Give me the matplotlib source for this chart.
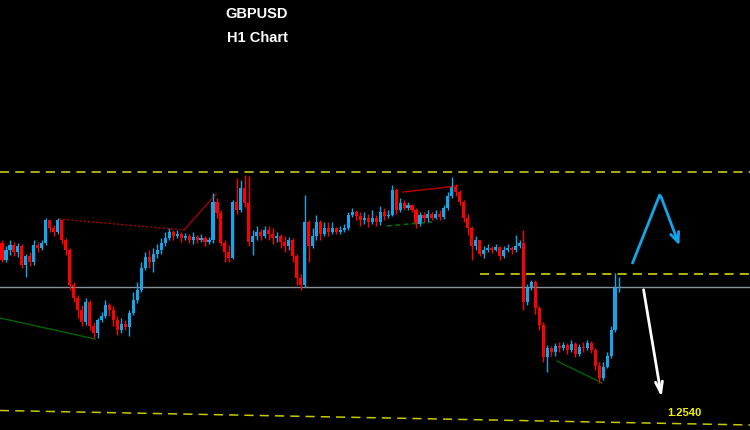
import numpy as np
import matplotlib
matplotlib.use("Agg")
import matplotlib.pyplot as plt

# GBPUSD H1 candles (open of each bar = previous close)
first_open = 1.2707
closes = [1.2690, 1.2700, 1.2705, 1.2698, 1.2704, 1.2685, 1.2694, 1.2688, 1.2705, 1.2702,
          1.2707, 1.2730, 1.2722, 1.2718, 1.2730, 1.2710, 1.2700, 1.2665, 1.2652, 1.2640,
          1.2628, 1.2648, 1.2624, 1.2617, 1.2630, 1.2634, 1.2645, 1.2640, 1.2630, 1.2620,
          1.2626, 1.2623, 1.2637, 1.2650, 1.2660, 1.2682, 1.2693, 1.2688, 1.2696, 1.2700,
          1.2707, 1.2712, 1.2718, 1.2714, 1.2716, 1.2712, 1.2714, 1.2710, 1.2713, 1.2710,
          1.2712, 1.2708, 1.2710, 1.2748, 1.2737, 1.2707, 1.2698, 1.2692, 1.2748, 1.2740,
          1.2762, 1.2747, 1.2708, 1.2714, 1.2718, 1.2714, 1.2720, 1.2716, 1.2712, 1.2714,
          1.2708, 1.2704, 1.2710, 1.2694, 1.2672, 1.2665, 1.2728, 1.2704, 1.2714, 1.2728,
          1.2716, 1.2722, 1.2718, 1.2722, 1.2718, 1.2720, 1.2722, 1.2735, 1.2738, 1.2734,
          1.2730, 1.2732, 1.2728, 1.2732, 1.2728, 1.2738, 1.2734, 1.2735, 1.2760, 1.2740,
          1.2747, 1.2742, 1.2745, 1.2740, 1.2726, 1.2735, 1.2732, 1.2736, 1.2732, 1.2736,
          1.2733, 1.2742, 1.2754, 1.2764, 1.2758, 1.2748, 1.2732, 1.2722, 1.2704, 1.2710,
          1.2696, 1.2700, 1.2702, 1.2700, 1.2703, 1.2694, 1.2700, 1.2702, 1.2700, 1.2704,
          1.2707, 1.2648, 1.2662, 1.2668, 1.2642, 1.2625, 1.2593, 1.2602, 1.2598, 1.2604,
          1.2602, 1.2605, 1.2600, 1.2606, 1.2596, 1.2603, 1.2602, 1.2607, 1.2600, 1.2584,
          1.2572, 1.2583, 1.2594, 1.2620, 1.2662, 1.2663]
highs = [1.2710, 1.2704, 1.2710, 1.2708, 1.2707, 1.2706, 1.2696, 1.2698, 1.2710, 1.2708,
         1.2710, 1.2732, 1.2728, 1.2725, 1.2732, 1.2730, 1.2712, 1.2702, 1.2668, 1.2655,
         1.2645, 1.2652, 1.2650, 1.2628, 1.2632, 1.2638, 1.2650, 1.2647, 1.2644, 1.2634,
         1.2632, 1.2630, 1.2640, 1.2658, 1.2668, 1.2688, 1.2698, 1.2700, 1.2702, 1.2706,
         1.2712, 1.2718, 1.2722, 1.2720, 1.2720, 1.2718, 1.2717, 1.2716, 1.2718, 1.2715,
         1.2716, 1.2714, 1.2713, 1.2757, 1.2752, 1.2740, 1.2710, 1.2705, 1.2750, 1.2772,
         1.2770, 1.2775, 1.2774, 1.2720, 1.2724, 1.2721, 1.2724, 1.2724, 1.2722, 1.2718,
         1.2716, 1.2714, 1.2713, 1.2712, 1.2696, 1.2676, 1.2755, 1.2730, 1.2722, 1.2735,
         1.2730, 1.2728, 1.2728, 1.2728, 1.2723, 1.2724, 1.2726, 1.2738, 1.2742, 1.2740,
         1.2738, 1.2738, 1.2736, 1.2740, 1.2735, 1.2744, 1.2742, 1.2740, 1.2765, 1.2762,
         1.2752, 1.2750, 1.2748, 1.2746, 1.2742, 1.2738, 1.2738, 1.2740, 1.2738, 1.2740,
         1.2740, 1.2745, 1.2758, 1.2773, 1.2766, 1.2760, 1.2750, 1.2736, 1.2724, 1.2714,
         1.2710, 1.2704, 1.2706, 1.2704, 1.2706, 1.2704, 1.2704, 1.2706, 1.2704, 1.2715,
         1.2710, 1.2720, 1.2666, 1.2670, 1.2670, 1.2644, 1.2628, 1.2605, 1.2604, 1.2607,
         1.2608, 1.2608, 1.2607, 1.2610, 1.2608, 1.2606, 1.2608, 1.2610, 1.2609, 1.2602,
         1.2588, 1.2588, 1.2598, 1.2624, 1.2677, 1.2673]
lows = [1.2688, 1.2688, 1.2695, 1.2694, 1.2693, 1.2682, 1.2673, 1.2684, 1.2685, 1.2698,
        1.2700, 1.2705, 1.2718, 1.2714, 1.2716, 1.2706, 1.2695, 1.2660, 1.2648, 1.2632,
        1.2624, 1.2625, 1.2620, 1.2612, 1.2612, 1.2628, 1.2632, 1.2634, 1.2624, 1.2615,
        1.2617, 1.2620, 1.2614, 1.2635, 1.2647, 1.2658, 1.2680, 1.2682, 1.2678, 1.2692,
        1.2696, 1.2704, 1.2710, 1.2710, 1.2712, 1.2708, 1.2710, 1.2707, 1.2706, 1.2707,
        1.2708, 1.2704, 1.2706, 1.2707, 1.2732, 1.2704, 1.2688, 1.2688, 1.2691, 1.2736,
        1.2738, 1.2743, 1.2704, 1.2695, 1.2710, 1.2710, 1.2712, 1.2710, 1.2706, 1.2708,
        1.2702, 1.2698, 1.2700, 1.2688, 1.2665, 1.2660, 1.2663, 1.2688, 1.2702, 1.2710,
        1.2710, 1.2714, 1.2714, 1.2716, 1.2716, 1.2716, 1.2718, 1.2720, 1.2733, 1.2730,
        1.2724, 1.2726, 1.2723, 1.2726, 1.2724, 1.2725, 1.2730, 1.2732, 1.2734, 1.2736,
        1.2738, 1.2740, 1.2740, 1.2738, 1.2722, 1.2724, 1.2728, 1.2728, 1.2730, 1.2731,
        1.2730, 1.2731, 1.2740, 1.2752, 1.2754, 1.2745, 1.2728, 1.2715, 1.2690, 1.2700,
        1.2694, 1.2692, 1.2698, 1.2697, 1.2699, 1.2690, 1.2692, 1.2698, 1.2696, 1.2698,
        1.2702, 1.2640, 1.2645, 1.2660, 1.2636, 1.2620, 1.2588, 1.2578, 1.2594, 1.2594,
        1.2598, 1.2600, 1.2596, 1.2598, 1.2593, 1.2594, 1.2598, 1.2600, 1.2597, 1.2580,
        1.2567, 1.2570, 1.2582, 1.2592, 1.2618, 1.2658]

# levels and drawings (bar index, price)
resistance = 1.2778
mid_level = 1.2676
mid_level_start = 120
price_line = 1.2663
support_line = [(-0.5, 1.25395), (188, 1.2525)]
support_label = "1.2540"
red_dotted = [(14.3, 1.2731), (45.7, 1.2720)]
red_solid = [(45.7, 1.2720), (53.8, 1.2756)]
red_top = [(100.75, 1.2758), (114.3, 1.2764)]
green_left = [(-0.5, 1.2632), (23.4, 1.2611)]
green_mid = [(96.7, 1.2724), (108.0, 1.2728)]
green_right = [(139.4, 1.2589), (150.75, 1.2567)]
blue_path = [(158.3, 1.2686), (165.3, 1.2756), (170.4, 1.2702)]
white_path = [(161.05, 1.2663), (165.8, 1.2550)]

up_col = "#12a6ea"
dn_col = "#ff0000"

closes = np.array(closes)
opens = np.concatenate([[first_open], closes[:-1]])
highs = np.maximum(np.array(highs), np.maximum(opens, closes))
lows = np.minimum(np.array(lows), np.minimum(opens, closes))
idx = np.arange(len(closes))
cols = np.where(closes >= opens, up_col, dn_col)

fig = plt.figure(figsize=(7.5, 4.3), dpi=100, facecolor="black")
ax = fig.add_axes([0, 0, 1, 1])
ax.set_facecolor("black")
ax.set_xlim(-0.5, 187.9)
ax.set_ylim(1.2520, 1.2950)
ax.axis("off")

# levels
ax.axhline(resistance, color="#d8d820", lw=1.1, ls=(0, (6, 4)))
ax.axhline(price_line, color="#8a9098", lw=1.0)
ax.plot([mid_level_start, 187.9], [mid_level, mid_level], color="#e6e600", lw=1.1, ls=(0, (6, 4)))
ax.plot(*zip(*support_line), color="#c8c800", lw=1.1, ls=(0, (6, 4)))
ax.text(171.4, 1.25365, support_label, color="#f0f000", fontsize=8,
        fontweight="bold", ha="center", va="center", family="Liberation Sans")

# trend lines
ax.plot(*zip(*red_dotted), color="#b00000", lw=1.0, ls=(0, (1.5, 1.5)))
ax.plot(*zip(*red_solid), color="#a00000", lw=1.0)
ax.plot(*zip(*red_top), color="#a00000", lw=1.2)
ax.plot(*zip(*green_left), color="#006400", lw=1.0)
ax.plot(*zip(*green_mid), color="#007000", lw=1.2, ls=(0, (3, 2)))
ax.plot(*zip(*green_right), color="#006400", lw=1.0)

# candles
ax.vlines(idx, lows, highs, colors=cols, lw=1.0)
body = np.abs(closes - opens)
body = np.maximum(body, 0.0001)
ax.bar(idx, body, bottom=np.minimum(opens, closes), width=0.78, color=cols, linewidth=0)

# arrows
ax.plot(*zip(*blue_path[:2]), color=up_col, lw=2.0, solid_capstyle="butt")
ax.annotate("", xy=blue_path[2], xytext=blue_path[1],
            arrowprops=dict(arrowstyle="->,head_length=0.7,head_width=0.3", color=up_col, lw=2.0))
ax.annotate("", xy=white_path[1], xytext=white_path[0],
            arrowprops=dict(arrowstyle="->,head_length=0.8,head_width=0.25", color="white", lw=2.0))

# title
fig.text(257 / 750, 1 - 14 / 430, "GBPUSD", color="white", fontsize=10.5, fontweight="bold",
         ha="center", va="center", family="Liberation Sans")
fig.text(257 / 750, 1 - 37.5 / 430, "H1 Chart", color="white", fontsize=10.5, fontweight="bold",
         ha="center", va="center", family="Liberation Sans")

fig.savefig("out.png", dpi=100, facecolor="black")
